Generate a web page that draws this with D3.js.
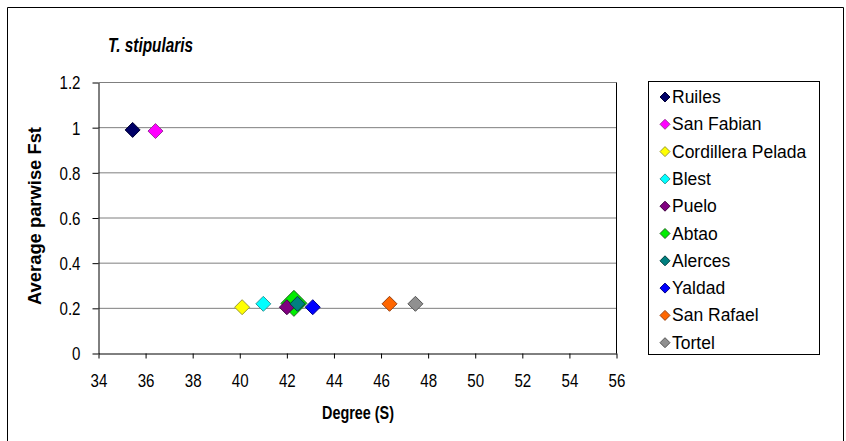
<!DOCTYPE html>
<html>
<head>
<meta charset="utf-8">
<script src="https://cdn.jsdelivr.net/npm/d3@7"></script>
<style>
  html, body { margin: 0; padding: 0; background: #fff; }
  svg { display: block; font-family: Arial, "Liberation Sans", sans-serif; }
</style>
</head>
<body>
<svg id="chart" width="846" height="441"></svg>
<script>
// Populations of T. stipularis: latitude (degrees S) vs. average pairwise Fst
const populations = ["Ruiles", "San Fabian", "Cordillera Pelada", "Blest", "Puelo",
                     "Abtao", "Alerces", "Yaldad", "San Rafael", "Tortel"];
const latitudes = [35.45, 36.42, 40.1, 41.0, 42.0, 42.3, 42.45, 43.1, 46.36, 47.46];
const fstValues = [0.99, 0.985, 0.205, 0.22, 0.205, 0.222, 0.22, 0.205, 0.22, 0.22];
const fillColors = ["#000066", "#ff00ff", "#ffff00", "#00ffff", "#800080",
                    "#00ee00", "#008080", "#0000ff", "#ff6600", "#909090"];
const strokeColors = ["#000033", "#993399", "#999933", "#339999", "#400040",
                      "#226622", "#004040", "#000088", "#994010", "#555555"];
const xTicks = [34, 36, 38, 40, 42, 44, 46, 48, 50, 52, 54, 56];
const yTicks = [0, 0.2, 0.4, 0.6, 0.8, 1, 1.2];

const svg = d3.select("#chart");

// outer chart frame
svg.append("path")
  .attr("d", "M7.5,441 V7.5 H843.5 V441")
  .attr("fill", "none").attr("stroke", "#000").attr("stroke-width", 1);

const x = d3.scaleLinear().domain([34, 56]).range([98.5, 616.5]);
const y = d3.scaleLinear().domain([0, 1.2]).range([353.5, 82.5]);

// horizontal gridlines
svg.append("g").selectAll("line")
  .data(yTicks.filter(v => v > 0))
  .join("line")
  .attr("x1", x(34)).attr("x2", x(56))
  .attr("y1", d => y(d)).attr("y2", d => y(d))
  .attr("stroke", "#7f7f7f").attr("stroke-width", 1);

// right edge of plot area
svg.append("line")
  .attr("x1", x(56)).attr("x2", x(56))
  .attr("y1", y(1.2)).attr("y2", y(0))
  .attr("stroke", "#000");

// axes
const xAxis = svg.append("g")
  .attr("transform", `translate(0,${y(0)})`)
  .call(d3.axisBottom(x).tickValues(xTicks).tickFormat(d3.format("d"))
        .tickSizeInner(5).tickSizeOuter(0));
const yAxis = svg.append("g")
  .attr("transform", `translate(${x(34)},0)`)
  .call(d3.axisLeft(y).tickValues(yTicks).tickFormat(d => d3.format("")(d))
        .tickSizeInner(6).tickSizeOuter(0));

[xAxis, yAxis].forEach(g => {
  g.select(".domain").attr("stroke", "#000");
  g.selectAll(".tick line").attr("stroke", "#000");
  g.selectAll(".tick text")
    .attr("font-family", "Arial, 'Liberation Sans', sans-serif")
    .attr("font-size", 18).attr("fill", "#000");
});
// tick labels are set slightly narrow
xAxis.selectAll(".tick text")
  .attr("y", 0).attr("dy", 0)
  .attr("transform", "translate(0,33) scale(0.84,1)");
yAxis.selectAll(".tick text")
  .attr("x", 0).attr("dy", "0.36em")
  .attr("transform", "translate(-18,0) scale(0.84,1)");

// titles
svg.append("text")
  .attr("x", 108).attr("y", 52)
  .attr("font-size", 21).attr("font-weight", "bold").attr("font-style", "italic")
  .attr("textLength", 85).attr("lengthAdjust", "spacingAndGlyphs")
  .text("T. stipularis");

svg.append("text")
  .attr("x", 322).attr("y", 419)
  .attr("font-size", 18).attr("font-weight", "bold")
  .attr("textLength", 72).attr("lengthAdjust", "spacingAndGlyphs")
  .text("Degree (S)");

svg.append("text")
  .attr("transform", `translate(41,305) rotate(-90)`)
  .attr("font-size", 17.5).attr("font-weight", "bold")
  .attr("textLength", 178).attr("lengthAdjust", "spacingAndGlyphs")
  .text("Average parwise Fst");

// data points: larger Abtao marker sits behind its neighbours
const diamond = r => `M0,${-r}L${r},0L0,${r}L${-r},0Z`;
const markerRadius = i => populations[i] === "Abtao" ? 13 : 7.5;
const drawOrder = d3.range(populations.length)
  .sort((a, b) => d3.descending(markerRadius(a), markerRadius(b)) || a - b);

svg.append("g").selectAll("path")
  .data(drawOrder)
  .join("path")
  .attr("transform", i => `translate(${x(latitudes[i])},${y(fstValues[i])})`)
  .attr("d", i => diamond(markerRadius(i)))
  .attr("fill", i => fillColors[i])
  .attr("stroke", i => strokeColors[i])
  .attr("stroke-width", 1);

// legend
const legend = svg.append("g");
legend.append("rect")
  .attr("x", 648.5).attr("y", 81.5).attr("width", 171).attr("height", 273)
  .attr("fill", "#fff").attr("stroke", "#000");

const rows = legend.selectAll("g.row")
  .data(populations)
  .join("g")
  .attr("class", "row")
  .attr("transform", (d, i) => `translate(665,${97 + i * 27.3})`);
rows.append("path")
  .attr("d", diamond(5))
  .attr("fill", (d, i) => fillColors[i])
  .attr("stroke", (d, i) => strokeColors[i]);
rows.append("text")
  .attr("x", 7).attr("y", 6)
  .attr("font-size", 17.5)
  .text(d => d);
</script>
</body>
</html>
